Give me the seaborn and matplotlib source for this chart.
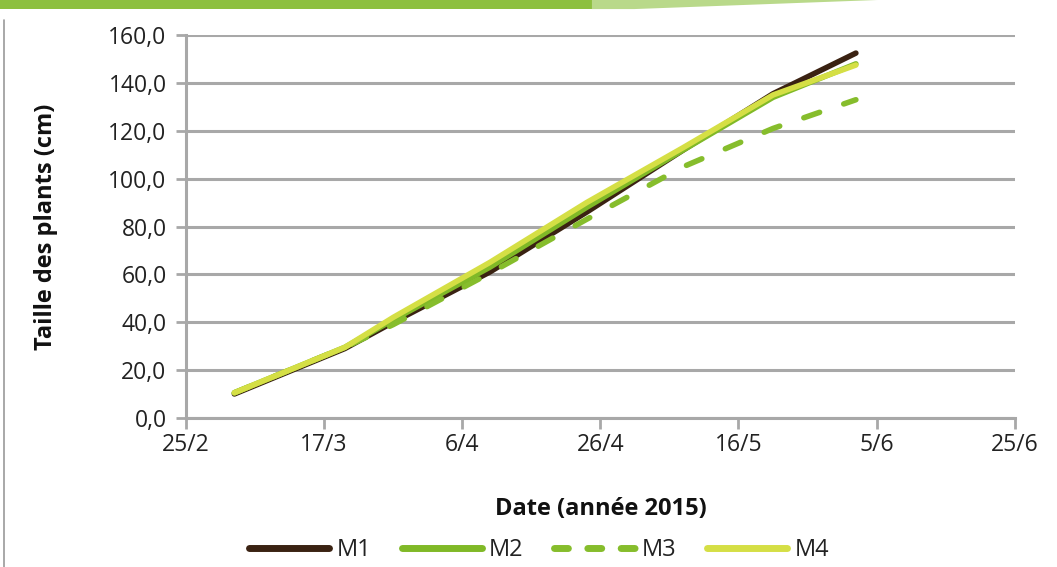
import matplotlib
matplotlib.use("Agg")
import matplotlib.pyplot as plt
from matplotlib.patches import Polygon, Rectangle
from matplotlib.lines import Line2D
import pandas as pd
import seaborn as sns

# Measurement dates (2015) and plant heights (cm) per modality
dates = ["2015-03-04", "2015-03-20", "2015-03-27", "2015-04-10",
         "2015-04-24", "2015-05-08", "2015-05-21", "2015-06-02"]
m1 = [10.0, 29.0, 40.0, 61.0, 86.0, 112.0, 135.5, 152.5]
m2 = [10.5, 29.5, 41.0, 63.0, 88.0, 112.0, 134.0, 148.0]
m3 = [10.5, 29.5, 39.0, 60.5, 83.0, 105.0, 121.0, 133.0]
m4 = [10.5, 29.5, 42.0, 65.0, 90.0, 113.0, 135.0, 147.5]
series_names = ["M1", "M2", "M3", "M4"]
colors = {"M1": "#3a2212", "M2": "#80b927", "M3": "#86bd2c", "M4": "#d5df45"}

tick_dates = ["2015-02-25", "2015-03-17", "2015-04-06", "2015-04-26",
              "2015-05-16", "2015-06-05", "2015-06-25"]
tick_labels = ["25/2", "17/3", "6/4", "26/4", "16/5", "5/6", "25/6"]
y_ticks = [0, 20, 40, 60, 80, 100, 120, 140, 160]

frames = []
for name, vals in zip(series_names, [m1, m2, m3, m4]):
    frames.append(pd.DataFrame({"Date": pd.to_datetime(dates), "Taille": vals, "Modalité": name}))
df = pd.concat(frames, ignore_index=True)

sns.set_theme(style="white")
plt.rcParams["font.family"] = ["Open Sans", "DejaVu Sans"]

fig = plt.figure(figsize=(10.57, 5.67), dpi=100)
ax = fig.add_axes([0.176, 0.263, 0.784, 0.675])

lw = 4.0
sns.lineplot(data=df, x="Date", y="Taille", hue="Modalité", style="Modalité",
             palette=colors,
             dashes={"M1": "", "M2": "", "M3": (3.0, 4.6), "M4": ""},
             linewidth=lw, ax=ax, legend=False, sort=False)
for line in ax.get_lines():
    line.set_solid_capstyle("round")
    line.set_dash_capstyle("round")

grid_col = "#a8a8a8"
ax.set_xlim(pd.Timestamp(tick_dates[0]), pd.Timestamp(tick_dates[-1]))
ax.set_ylim(0, 160)
ax.set_xticks(pd.to_datetime(tick_dates))
ax.set_xticklabels(tick_labels)
ax.set_yticks(y_ticks)
ax.set_yticklabels([f"{v:.1f}".replace(".", ",") for v in y_ticks])
ax.yaxis.grid(True, color=grid_col, linewidth=2.2)
ax.xaxis.grid(False)
ax.set_axisbelow(True)
for side in ["top", "right"]:
    ax.spines[side].set_visible(False)
for side in ["left", "bottom"]:
    ax.spines[side].set_color(grid_col)
    ax.spines[side].set_linewidth(2.2)
ax.tick_params(axis="x", direction="out", length=8, width=2, color=grid_col,
               labelsize=16.5, labelcolor="#222222", pad=3)
ax.tick_params(axis="y", direction="out", length=7, width=2, color=grid_col,
               labelsize=16.5, labelcolor="#222222", pad=7)
ax.tick_params(left=True, bottom=True)

ax.set_xlabel("Date (année 2015)", fontsize=17, fontweight="bold", color="#111111", labelpad=29)
ax.set_ylabel("Taille des plants (cm)", fontsize=17, fontweight="bold", color="#111111", labelpad=36)

handles = []
for name in series_names:
    handles.append(Line2D([0], [0], color=colors[name], linewidth=5.0,
                          linestyle=(0, (2.0, 2.8)) if name == "M3" else "-",
                          solid_capstyle="round", dash_capstyle="round"))
fig.legend(handles, series_names, loc="center", bbox_to_anchor=(0.51, 0.03),
           ncol=4, frameon=False, fontsize=17, handlelength=3.4,
           columnspacing=1.3, handletextpad=0.3, labelcolor="#222222")

# Page decoration: green band along the top, thin rule on the left
fig.patches.append(Rectangle((0, 0.984), 0.57, 0.016, transform=fig.transFigure,
                             facecolor="#8dc03f", edgecolor="none"))
fig.patches.append(Polygon([(0.56, 1.0), (0.83, 1.0), (0.60, 0.984), (0.56, 0.984)],
                           closed=True, transform=fig.transFigure,
                           facecolor="#b9d98a", edgecolor="none"))
fig.lines.append(Line2D([0.004, 0.004], [0.0, 0.965], transform=fig.transFigure,
                        color="#9a9a9a", linewidth=1.2))

fig.savefig("out.png", dpi=100)
